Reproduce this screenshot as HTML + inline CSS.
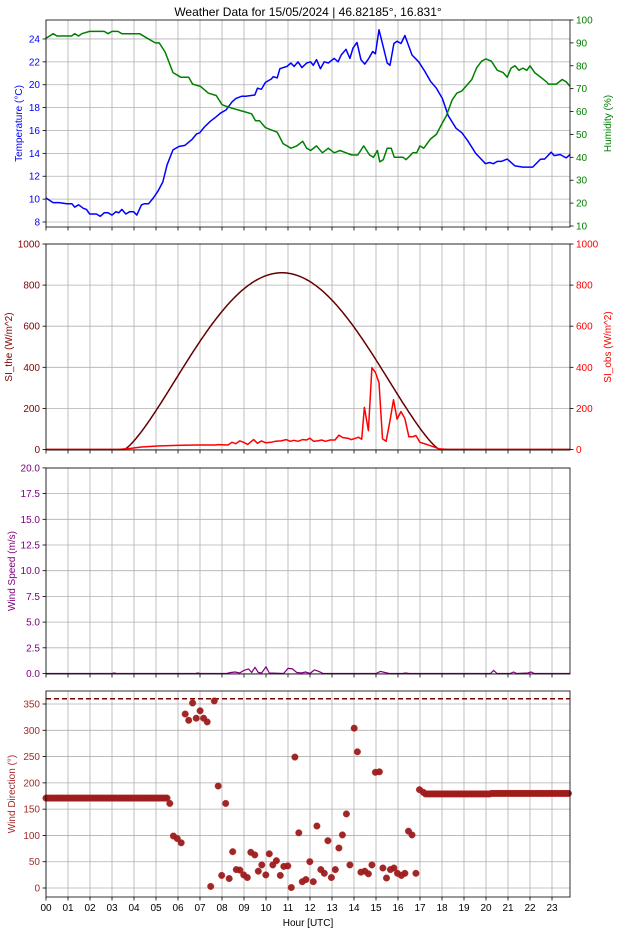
<!DOCTYPE html><html><head><meta charset="utf-8"><style>body{margin:0;background:#fff}svg{display:block}text{font-family:"Liberation Sans",sans-serif}</style></head><body>
<svg id="s" width="617" height="935" xmlns="http://www.w3.org/2000/svg"></svg>
<script>
const s=document.getElementById('s');let o='';
const L=46,R=570,X=h=>L+22*h,HMAX=(R-L)/22;
function interp(pts,h){for(let i=0;i<pts.length-1;i++){if(h>=pts[i][0]&&h<=pts[i+1][0]){const t=(h-pts[i][0])/(pts[i+1][0]-pts[i][0]);return pts[i][1]+t*(pts[i+1][1]-pts[i][1]);}}return pts[pts.length-1][1];}
function line(pts,Y,c,w){let d='';pts.forEach((p,i)=>{d+=(i?'L':'M')+X(p[0]).toFixed(1)+','+Y(p[1]).toFixed(1)});o+=`<path d="${d}" fill="none" stroke="${c}" stroke-width="${w||1.5}" stroke-linejoin="round"/>`;}
function panel(top,bot,lt,rt,showX){
 // grid vertical
 for(let h=0;h<=23;h++){o+=`<line x1="${X(h)}" y1="${top}" x2="${X(h)}" y2="${bot}" stroke="#b0b0b0" stroke-width="0.8"/>`;
  o+=`<line x1="${X(h)}" y1="${bot}" x2="${X(h)}" y2="${bot+3.5}" stroke="#000" stroke-width="0.8"/>`;
  if(showX)o+=`<text x="${X(h)}" y="${bot+14}" font-size="10" text-anchor="middle">${String(h).padStart(2,'0')}</text>`;}
 lt.ticks.forEach(([v,y])=>{o+=`<line x1="${L}" y1="${y}" x2="${R}" y2="${y}" stroke="#b0b0b0" stroke-width="0.8"/><line x1="${L-3.5}" y1="${y}" x2="${L}" y2="${y}" stroke="#000" stroke-width="0.8"/><text x="${L-6}" y="${y+3.5}" font-size="10" text-anchor="end" fill="${lt.c}">${v}</text>`});
 o+=`<text transform="translate(${lt.lx},${(top+bot)/2}) rotate(-90)" font-size="10" text-anchor="middle" fill="${lt.c}">${lt.label}</text>`;
 if(rt){rt.ticks.forEach(([v,y])=>{o+=`<line x1="${R}" y1="${y}" x2="${R+3.5}" y2="${y}" stroke="#000" stroke-width="0.8"/><text x="${R+6}" y="${y+3.5}" font-size="10" fill="${rt.c}">${v}</text>`});
 o+=`<text transform="translate(${R+41},${(top+bot)/2}) rotate(-90)" font-size="10" text-anchor="middle" fill="${rt.c}">${rt.label}</text>`;}
}
function frame(top,bot){o+=`<rect x="${L}" y="${top}" width="${R-L}" height="${bot-top}" fill="none" stroke="#000" stroke-width="0.8"/>`;}
o+=`<text x="308" y="16" font-size="12" text-anchor="middle">Weather Data for 15/05/2024 | 46.82185°, 16.831°</text>`;
// Panel 1
const T1=20,B1=227,YT=t=>222-(t-8)*11.44,YH=h=>226-(h-10)*2.289;
panel(T1,B1,{c:'#0000ff',label:'Temperature (°C)',lx:22,ticks:[8,10,12,14,16,18,20,22,24].map(v=>[v,YT(v)])},{c:'#008000',label:'Humidity (%)',ticks:[10,20,30,40,50,60,70,80,90,100].map(v=>[v,YH(v)])},false);
const temp=[[0,10.1],[0.3,9.7],[0.6,9.7],[1,9.6],[1.3,9.5],[1.5,9.3],[1.8,9.1],[2,8.7],[2.3,8.75],[2.5,8.6],[2.7,8.8],[3,8.75],[3.3,8.9],[3.5,8.8],[3.7,9.0],[4,8.9],[4.2,8.6],[4.5,9.6],[4.8,9.7],[5,10.2],[5.3,10.9],[5.5,11.6],[5.8,13.3],[6,14.3],[6.3,14.5],[6.5,14.6],[6.8,15.1],[7,15.7],[7.3,16.2],[7.5,16.7],[7.8,17.2],[8,17.4],[8.3,18],[8.5,18.6],[8.8,18.9],[9,19.1],[9.3,19.0],[9.5,19.1],[9.8,19.7],[10,20.2],[10.3,20.5],[10.5,20.7],[10.8,21.4],[11.2,21.6],[11.5,21.9],[11.7,21.6],[11.9,22.0],[12.1,21.6],[12.4,22.0],[12.7,21.7],[12.9,22.2],[13.1,21.5],[13.3,22.0],[13.6,22.0],[13.9,22.3],[14.1,22.0],[14.4,23.0],[14.6,22.4],[14.9,23.6],[15.1,22.2],[15.3,21.8],[15.6,22.4],[15.8,22.9],[16,22.7],[16.1,24.8],[16.3,23.5],[16.5,21.9],[16.7,21.7],[16.9,23.6],[17.1,23.7],[17.3,23.6],[17.5,24.3],[17.9,22.6],[18.2,22.1],[18.5,21.3],[19,20.2],[19.4,19.3],[19.8,17.8],[20.1,16.4],[20.5,15.7],[20.9,14.7],[21.2,13.8],[21.6,13.2],[22.0,13.3],[22.3,13.5],[22.5,13.1],[22.9,12.9],[23.4,12.8],[23.82,12.9]];
// fix: hours above were offset; rescale by mapping original pixel estimates
const tempFix=temp.map(p=>[p[0]*(0.95+0)+ (p[0]>15?0:0),p[1]]);
const tp=[[0,10.1],[0.3,9.7],[0.6,9.75],[1,9.6],[1.3,9.5],[1.5,9.3],[1.8,9.1],[2,8.7],[2.3,8.8],[2.5,8.6],[2.7,8.85],[3,8.7],[3.2,8.9],[3.4,8.85],[3.6,9.05],[3.8,8.75],[4,8.9],[4.2,8.65],[4.5,9.6],[4.8,9.7],[5,10.2],[5.3,10.9],[5.5,11.6],[5.75,13.3],[5.95,14.3],[6.2,14.5],[6.5,14.7],[6.8,15.2],[7,15.7],[7.3,16.2],[7.5,16.7],[7.8,17.2],[8,17.4],[8.2,17.9],[8.5,18.6],[8.8,18.9],[9,19.1],[9.3,19.0],[9.5,19.1],[9.7,19.6],[9.8,19.6],[10,20.2],[10.3,20.5],[10.5,20.7],[10.8,21.4],[11.2,21.6],[11.4,21.9],[11.6,21.5],[11.8,22.0],[12,21.5],[12.2,21.9],[12.4,22.0],[12.6,21.7],[12.8,22.2],[13,21.5],[13.2,22.0],[13.4,21.9],[13.7,22.3],[13.9,21.9],[14.1,22.7],[14.3,23.1],[14.5,22.3],[14.7,23.2],[14.9,23.7],[15.1,22.2],[15.3,21.8],[15.6,22.4],[15.8,22.9],[16,22.7],[16.1,24.8],[16.3,23.3],[16.5,21.9],[16.7,21.7],[16.9,23.6],[17.1,23.8],[17.3,23.6],[17.5,24.3],[17.9,22.6],[18.2,22.1],[18.5,21.3],[18.9,20.3],[19.3,19.3],[19.7,17.8],[20.1,16.3],[20.5,15.7],[20.9,14.8],[21.2,13.9],[21.6,13.2],[22.0,13.3],[22.3,13.5],[22.5,13.1],[22.9,12.9],[23.4,12.85],[23.82,12.9]];
// Map reference hours: reference temp peak ~15.1h, x-grid from reference image
const tRef=[[0,10.1],[0.3,9.7],[0.6,9.75],[1,9.6],[1.3,9.5],[1.5,9.3],[1.8,9.1],[2,8.7],[2.3,8.8],[2.5,8.6],[2.7,8.85],[3,8.7],[3.2,8.9],[3.4,8.85],[3.6,9.05],[3.8,8.75],[4,8.9],[4.1,8.65],[4.4,9.6],[4.6,9.65],[4.9,10.2],[5.2,10.9],[5.4,11.6],[5.65,13.3],[5.85,14.3],[6.1,14.5],[6.4,14.7],[6.7,15.2],[6.9,15.7],[7.2,16.3],[7.5,16.8],[7.8,17.3],[8,17.5],[8.2,17.9],[8.5,18.6],[8.8,18.9],[9,19.1],[9.3,19.0],[9.5,19.1],[9.7,19.7],[9.85,19.6],[10,20.2],[10.3,20.5],[10.5,20.7],[10.7,20.6],[10.9,21.4],[11.2,21.6],[11.4,21.9],[11.55,21.5],[11.75,22.0],[11.9,21.5],[12.1,21.9],[12.3,22.0],[12.5,21.7],[12.7,22.2],[12.85,21.5],[13,22.0],[13.2,21.9],[13.5,22.3],[13.7,21.9],[13.9,22.7],[14.1,23.1],[14.3,22.3],[14.5,23.2],[14.7,23.7],[14.9,22.2],[15.1,21.8],[15.4,22.4],[15.6,22.9],[15.8,22.7],[15.95,24.8],[16.1,23.3],[16.3,21.9],[16.5,21.7],[16.7,23.6],[16.9,23.8],[17.1,23.6],[17.3,24.3],[17.7,22.6],[18,22.1],[18.3,21.3],[18.7,20.3],[19.1,19.3],[19.5,17.8],[19.8,16.3],[20.2,15.7],[20.6,14.8],[20.9,13.9],[21.2,13.2],[21.5,13.2],[21.8,13.35],[22.1,13.5],[22.3,13.0],[22.7,12.85],[23.2,12.85],[23.4,13.5],[23.6,13.6],[23.82,14.0]];
// refined using reference pixel grid: final hour scale
const tFinal=tRef.map(p=>[p[0]<=23.82?p[0]*1.0:p[0],p[1]]);
const hum=[[0,92],[0.3,94],[0.5,93],[1.5,93],[1.7,94],[1.9,93],[2.1,94],[2.5,95],[3,95],[3.2,94],[3.5,95],[3.8,95],[4,94],[5,94],[5.3,92],[5.7,90],[6,90],[6.3,87],[6.6,80],[6.9,77],[7.3,76],[7.7,76],[8.1,72],[8.4,72],[8.7,70],[9.1,68],[9.5,67],[9.8,64],[10.1,63],[10.4,63],[10.7,61],[11,61],[11.3,60],[11.6,60],[11.9,56],[12.2,56],[12.5,53],[12.8,52],[13.1,51],[13.4,51],[13.7,47],[14,45],[14.3,44],[14.6,44],[14.9,45],[15.1,47],[15.4,44],[15.7,43],[16,44],[16.3,45],[16.6,44],[16.9,42],[17.2,44],[17.5,42],[17.8,44],[18.1,43],[18.4,42],[18.7,41],[19,42],[19.3,44],[19.6,43],[19.9,41],[20.2,42],[20.5,40],[20.8,42],[21.1,44],[21.4,40],[21.7,42],[22,38],[22.3,39],[22.6,44],[22.9,44],[23.2,40],[23.82,40]];
// humidity hours from ref pixel positions (zoom px/2.54 -> (px-46)/22)
const hz=[[117,92],[135,94],[145,93],[182,93],[190,94],[200,93],[208,94],[228,95],[265,95],[275,94],[285,95],[300,95],[310,94],[355,94],[375,92],[395,90],[405,90],[420,86],[440,77],[460,75],[480,75],[490,72],[510,71],[530,68],[550,67],[565,63],[580,62],[600,61],[620,60],[640,59],[650,56],[660,56],[675,53],[690,52],[705,51],[720,46],[740,44],[755,45],[770,47],[780,44],[790,43],[805,45],[820,42],[835,44],[850,42],[865,43],[880,42],[895,41],[910,41],[925,45],[940,41],[950,40],[960,43],[966,38],[975,39],[985,44],[995,44],[1003,40],[1025,40],[1033,39],[1050,42],[1060,42],[1068,45],[1078,44],[1095,48],[1110,50],[1125,55],[1135,58],[1150,65],[1162,68],[1175,69],[1190,72],[1200,74],[1212,79],[1225,82],[1236,83],[1250,82],[1265,78],[1280,77],[1290,75],[1300,79],[1310,80],[1320,78],[1330,79],[1340,78],[1348,80],[1360,77],[1375,75],[1390,73],[1395,72],[1405,72],[1415,72],[1430,74],[1440,73],[1450,71]];
const humP=hz.map(([x,v])=>[(x-117)/55.96,v]);
// temperature from zoom pixels
const tz=[[117,10.1],[135,9.7],[150,9.7],[170,9.6],[183,9.6],[190,9.3],[200,9.5],[212,9.2],[220,9.1],[228,8.7],[245,8.7],[255,8.5],[265,8.8],[275,8.8],[285,8.6],[295,8.9],[302,8.8],[310,9.1],[320,8.7],[330,8.9],[340,8.9],[348,8.6],[360,9.5],[368,9.6],[378,9.6],[390,10.1],[402,10.7],[414,11.5],[425,13.0],[440,14.3],[455,14.6],[470,14.7],[488,15.2],[500,15.7],[508,15.8],[520,16.3],[535,16.8],[550,17.2],[560,17.5],[575,17.8],[590,18.5],[600,18.8],[615,19.0],[625,19.0],[648,19.1],[655,19.7],[665,19.6],[675,20.2],[690,20.5],[695,20.7],[705,20.6],[712,21.4],[730,21.6],[740,21.9],[748,21.6],[758,22.0],[768,21.5],[780,21.9],[790,22.0],[797,21.7],[805,22.2],[815,21.4],[825,22.0],[835,21.9],[850,22.3],[860,22.0],[868,22.6],[880,23.1],[890,22.3],[898,23.2],[908,23.7],[918,22.2],[928,21.8],[938,22.3],[948,22.9],[955,22.7],[964,24.8],[975,23.3],[985,21.9],[992,21.7],[1002,23.6],[1010,23.8],[1020,23.6],[1030,24.3],[1048,22.6],[1065,22.0],[1080,21.2],[1095,20.3],[1110,19.7],[1125,18.8],[1140,17.3],[1160,16.2],[1175,15.8],[1190,15.1],[1210,14.0],[1235,13.1],[1245,13.2],[1255,13.1],[1265,13.3],[1275,13.3],[1290,13.5],[1310,12.9],[1330,12.8],[1355,12.8],[1375,13.5],[1385,13.5],[1402,14.1],[1410,13.8],[1425,13.9],[1440,13.6],[1450,13.9]];
const tempP=tz.map(([x,v])=>[(x-117)/55.96,v]);
line(tempP,YT,'#0000ff',1.5);line(humP,YH,'#008000',1.5);
frame(T1,B1);
// Panel 2
const T2=244,B2=450,YS=v=>449.5-v*0.2055;
panel(T2,B2,{c:'#800000',label:'SI_the (W/m^2)',lx:12,ticks:[0,200,400,600,800,1000].map(v=>[v,YS(v)])},{c:'#ff0000',label:'SI_obs (W/m^2)',ticks:[0,200,400,600,800,1000].map(v=>[v,YS(v)])},false);
let sth=[];for(let h=0;h<=HMAX;h+=0.05){let v=0;if(h>3.55&&h<17.9)v=860*Math.pow(Math.sin(Math.PI*(h-3.55)/(17.9-3.55)),1.3);sth.push([h,v]);}
const oz=[[117,0],[300,0],[330,5],[360,12],[400,17],[450,20],[500,22],[548,22],[555,24],[580,22],[590,35],[600,28],[610,42],[620,35],[630,25],[645,48],[655,30],[665,42],[675,33],[690,35],[700,40],[715,42],[728,48],[738,40],[748,45],[758,40],[770,48],[780,46],[788,55],[798,40],[808,42],[818,46],[828,40],[840,46],[852,46],[862,70],[872,58],[885,55],[893,48],[905,55],[912,60],[920,50],[927,205],[937,92],[946,398],[955,375],[964,325],[973,52],[982,40],[992,140],[1001,242],[1010,148],[1020,185],[1030,150],[1040,62],[1050,62],[1058,68],[1068,35],[1085,25],[1100,15],[1118,3],[1140,0],[1450,0]];
const obsP=oz.map(([x,v])=>[(x-117)/55.96,v]);
line(sth,YS,'#660000',1.5);line(obsP,YS,'#ff0000',1.5);
frame(T2,B2);
// Panel 3
const T3=468,B3=674,YW=v=>673.5-v*10.28;
panel(T3,B3,{c:'#800080',label:'Wind Speed (m/s)',lx:15,ticks:[0,2.5,5,7.5,10,12.5,15,17.5,20].map(v=>[v.toFixed(1),YW(v)])},null,false);
const ws=[[0,0],[3,0],[3.1,0.05],[3.2,0],[6.8,0],[6.9,0.05],[7,0],[8.2,0],[8.4,0.1],[8.6,0.15],[8.8,0.05],[9,0.3],[9.2,0.45],[9.35,0.1],[9.5,0.6],[9.65,0.1],[9.8,0.05],[10,0.65],[10.15,0.05],[10.8,0],[11,0.5],[11.2,0.45],[11.4,0.1],[11.6,0.05],[11.8,0.15],[12,0],[12.2,0.35],[12.4,0.2],[12.6,0],[15,0],[15.2,0.2],[15.4,0.1],[15.6,0],[16.2,0],[16.35,0.05],[16.5,0],[20.2,0],[20.35,0.3],[20.5,0],[21.1,0],[21.25,0.15],[21.4,0],[21.9,0.05],[22.05,0.15],[22.2,0],[23.82,0]];
line(ws,YW,'#800080',1.2);
frame(T3,B3);
// Panel 4
const T4=691,B4=897,YD=d=>888-d*0.5257;
panel(T4,B4,{c:'#a52a2a',label:'Wind Direction (°)',lx:15,ticks:[0,50,100,150,200,250,300,350].map(v=>[v,YD(v)])},null,true);
o+=`<line x1="${L}" y1="${YD(360)}" x2="${R}" y2="${YD(360)}" stroke="#800000" stroke-width="1.4" stroke-dasharray="5,3"/>`;
let pts=[];for(let h=0;h<=5.55;h+=0.0833)pts.push([h,171]);
const sz=[[432,161],[441,99],[451,94],[461,86],[471,331],[480,319],[490,352],[499,323],[509,337],[518,323],[527,316],[536,3],[545,356],[555,194],[564,24],[574,161],[583,18],[592,69],[601,35],[610,34],[620,25],[629,20],[638,68],[648,63],[657,32],[666,44],[676,25],[685,65],[694,44],[703,52],[713,24],[722,41],[732,42],[741,1],[750,249],[760,105],[769,12],[778,16],[788,50],[797,12],[806,118],[816,35],[825,28],[834,90],[843,20],[853,35],[862,76],[871,101],[881,141],[890,44],[901,304],[909,259],[918,30],[928,32],[937,27],[946,44],[955,220],[965,221],[974,38],[983,19],[993,35],[1002,38],[1011,28],[1021,24],[1030,28],[1039,108],[1048,101],[1058,28],[1067,187]];
sz.forEach(([x,d])=>pts.push([(x-117)/55.96,d]));
pts.push([17.15,182]);for(let h=17.25;h<=HMAX;h+=0.0833)pts.push([h,h<20.2?179:180]);
pts.forEach(([h,d])=>{o+=`<circle cx="${X(h).toFixed(1)}" cy="${YD(d).toFixed(1)}" r="3.3" fill="#9b1c1c" stroke="#b22222" stroke-width="0.4" opacity="0.95"/>`});
frame(T4,B4);
o+=`<text x="308" y="926" font-size="10" text-anchor="middle">Hour [UTC]</text>`;
s.innerHTML=o;
</script></body></html>
